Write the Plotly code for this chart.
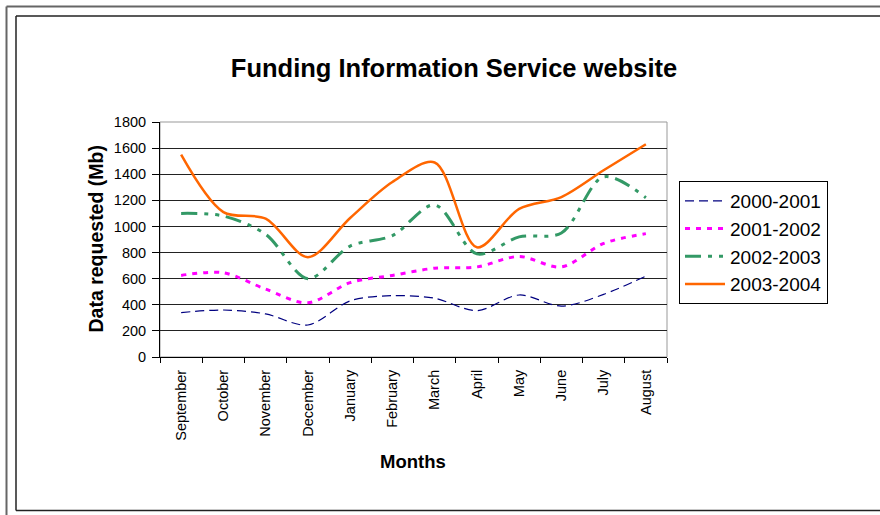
import plotly.graph_objects as go

months = ["September", "October", "November", "December", "January", "February",
          "March", "April", "May", "June", "July", "August"]
series_names = ["2000-2001", "2001-2002", "2002-2003", "2003-2004"]
s2000_2001 = [340, 360, 330, 245, 430, 470, 450, 355, 475, 390, 480, 620]
s2001_2002 = [625, 645, 520, 415, 570, 625, 680, 690, 770, 690, 870, 945]
s2002_2003 = [1100, 1080, 940, 600, 850, 930, 1165, 790, 920, 950, 1380, 1220]
s2003_2004 = [1550, 1110, 1060, 765, 1065, 1340, 1490, 840, 1135, 1225, 1430, 1630]
y_ticks = [0, 200, 400, 600, 800, 1000, 1200, 1400, 1600, 1800]

W, H = 880, 515
L, R, T, B = 160, 213, 122, 158
PW, PH = W - L - R, H - T - B

def px(x):
    return (x - L) / PW

def py(y):
    return (H - B - y) / PH

FONT = "Liberation Sans, Arial, sans-serif"

styles = [
    dict(color="#000080", width=1.2, dash="9px,5px"),
    dict(color="#FF00FF", width=3, dash="5px,6px"),
    dict(color="#339966", width=3, dash="16px,7px,4px,7px,4px,7px"),
    dict(color="#FF6600", width=2.5, dash="solid"),
]

fig = go.Figure()
for name, vals, st in zip(series_names, [s2000_2001, s2001_2002, s2002_2003, s2003_2004], styles):
    fig.add_trace(go.Scatter(
        x=months, y=vals, name=name, mode="lines",
        line=dict(color=st["color"], width=st["width"], dash=st["dash"],
                  shape="spline", smoothing=0.9),
    ))

def hline(y, x0, x1, color, width):
    return dict(type="line", xref="paper", yref="paper", x0=px(x0), x1=px(x1),
                y0=py(y), y1=py(y), line=dict(color=color, width=width), layer="below")

def vline(x, y0, y1, color, width):
    return dict(type="line", xref="paper", yref="paper", x0=px(x), x1=px(x),
                y0=py(y0), y1=py(y1), line=dict(color=color, width=width), layer="below")

fig.update_layout(
    width=W, height=H,
    margin=dict(l=L, r=R, t=T, b=B),
    paper_bgcolor="white", plot_bgcolor="white",
    font=dict(family=FONT, color="black", size=14),
    title=dict(text="<b>Funding Information Service website</b>",
               x=454 / W, xanchor="center", y=1 - 68 / H, yanchor="middle",
               font=dict(family=FONT, size=25.5, color="black")),
    showlegend=True,
    legend=dict(x=px(679), y=py(181), xanchor="left", yanchor="top",
                bordercolor="black", borderwidth=1, bgcolor="white",
                font=dict(family=FONT, size=19, color="black"),
                tracegroupgap=0, itemwidth=40),
    xaxis=dict(type="category", tickangle=-90, showgrid=False,
               showline=True, linecolor="black", linewidth=1,
               ticks="outside", ticklen=5, tickcolor="black", tickson="boundaries",
               ticklabelstandoff=6,
               tickfont=dict(family=FONT, size=14.5, color="black"),
               range=[-0.5, len(months) - 0.5], fixedrange=True),
    yaxis=dict(range=[0, 1800], tickvals=y_ticks, showgrid=True,
               gridcolor="#222222", gridwidth=1, zeroline=False,
               showline=True, linecolor="black", linewidth=1,
               ticks="outside", ticklen=7, tickcolor="black",
               ticklabelstandoff=3,
               tickfont=dict(family=FONT, size=14.5, color="black")),
    annotations=[
        dict(text="<b>Data requested (Mb)</b>", xref="paper", yref="paper",
             x=px(95), y=0.5, textangle=-90, showarrow=False,
             xanchor="center", yanchor="middle",
             font=dict(family=FONT, size=19.5, color="black")),
        dict(text="<b>Months</b>", xref="paper", yref="paper",
             x=px(413), y=py(462), showarrow=False,
             xanchor="center", yanchor="middle",
             font=dict(family=FONT, size=18.5, color="black")),
    ],
    shapes=[
        dict(type="rect", xref="paper", yref="paper", x0=0, x1=1, y0=0, y1=1,
             line=dict(color="#999999", width=1), layer="below"),
        # outer frame (gray)
        hline(6.5, 6.5, 880, "#666666", 2),
        vline(6.5, 6.5, 515, "#666666", 2),
        # inner frame (dark)
        hline(16, 16, 880, "#222222", 1.5),
        hline(510.5, 16, 880, "#222222", 1.5),
        vline(16, 16, 510.5, "#222222", 1.5),
    ],
)

fig.write_html("out.html")
